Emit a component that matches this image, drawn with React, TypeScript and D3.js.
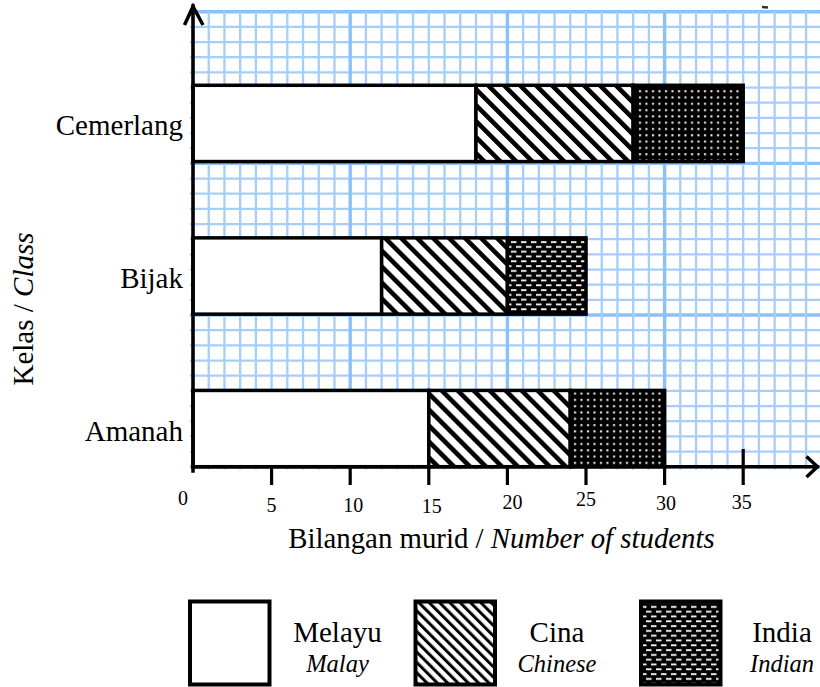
import React from "react";
import * as d3 from "d3";

// ---- data ----
const classes = ["Cemerlang", "Bijak", "Amanah"];
const groups = ["Melayu", "Cina", "India"];
const groupsEn = ["Malay", "Chinese", "Indian"];
const melayu = [18, 12, 15];
const cina = [10, 8, 9];
const india = [7, 5, 6];
const xTicks = [0, 5, 10, 15, 20, 25, 30, 35];

const FONT = "'Liberation Serif', 'Times New Roman', Times, serif";

export default function App() {
  const W = 820;
  const H = 687;
  const x0 = 193;
  const unit = 15.72;
  const x = d3.scaleLinear().domain([0, 35]).range([x0, x0 + 35 * unit]);
  const axisY = 466.7;
  const gridTop = 11.7;
  const rowH = (axisY - gridTop) / 30;
  const y = d3
    .scaleBand<string>()
    .domain(classes)
    .range([9, 543])
    .paddingInner(0.5)
    .paddingOuter(0.5);

  const vLines = d3.range(0, 41).map((k) => ({ x: x(k), major: k % 10 === 0 }));
  const hLines = d3.range(0, 31).map((j) => ({ y: axisY - j * rowH, major: j % 10 === 0 }));

  // hand-placed tick labels in the original (layout nudges)
  const nudge: [number, number][] = [
    [-10, 505], [0, 511.7], [3, 511.7], [3, 513.3], [5, 509.3], [0, 506], [1.5, 510], [-1.5, 509.3],
  ];
  const legendBoxX = (i: number) => 190 + i * 225.5;
  const legendTextX = [337.5, 557, 782];

  const stacks = classes.map((c, i) => {
    const vals = [melayu[i], cina[i], india[i]];
    let acc = 0;
    return vals.map((v, gi) => {
      const s = acc;
      acc += v;
      return { cls: c, group: groups[gi], start: s, end: acc };
    });
  });

  const fillFor = (group: string, cls: string) => {
    if (group === "Melayu") return "#ffffff";
    if (group === "Cina") return "url(#stripes)";
    return cls === "Bijak" ? "url(#dashes)" : "url(#dots)";
  };
  const legendFill = ["#ffffff", "url(#stripesSmall)", "url(#dashes)"];

  return (
    <svg
      width={W}
      height={H}
      viewBox={`0 0 ${W} ${H}`}
      style={{ position: "absolute", left: 0, top: 0, background: "#fff" }}
      fontFamily={FONT}
    >
      <defs>
        <pattern id="stripes" patternUnits="userSpaceOnUse" width={11.3} height={11.3} patternTransform="rotate(-45)">
          <rect width={11.3} height={11.3} fill="#fff" />
          <rect x={0} y={0} width={4.6} height={11.3} fill="#000" />
        </pattern>
        <pattern id="stripesSmall" patternUnits="userSpaceOnUse" width={7.3} height={7.3} patternTransform="rotate(-45)">
          <rect width={7.3} height={7.3} fill="#fff" />
          <rect x={0} y={0} width={3} height={7.3} fill="#000" />
        </pattern>
        <pattern id="dots" patternUnits="userSpaceOnUse" width={6.5} height={6.3}>
          <rect width={6.5} height={6.3} fill="#000" />
          <rect x={2} y={2} width={2} height={2} fill="#fff" />
        </pattern>
        <pattern id="dashes" patternUnits="userSpaceOnUse" width={10} height={9.6}>
          <rect width={10} height={9.6} fill="#000" />
          <rect x={1} y={1.2} width={5.5} height={1.8} fill="#fff" />
          <rect x={6} y={6} width={5.5} height={1.8} fill="#fff" />
          <rect x={-4} y={6} width={5.5} height={1.8} fill="#fff" />
        </pattern>
      </defs>

      {/* graph paper grid */}
      <g>
        {hLines.map((l, i) => (
          <line
            key={"h" + i}
            x1={190}
            x2={W}
            y1={l.y}
            y2={l.y}
            stroke={l.major ? "#8cc0f8" : "#a6cefb"}
            strokeWidth={l.major ? 3.4 : 2.3}
          />
        ))}
        {vLines.map((l, i) => (
          <line
            key={"v" + i}
            x1={l.x}
            x2={l.x}
            y1={gridTop}
            y2={469.5}
            stroke={l.major ? "#8cc0f8" : "#a6cefb"}
            strokeWidth={l.major ? 3.4 : 2.3}
          />
        ))}
      </g>

      {/* stacked bars */}
      <g>
        {stacks.map((segs) =>
          segs.map((s) => (
            <rect
              key={s.cls + s.group}
              x={x(s.start)}
              y={y(s.cls)!}
              width={x(s.end) - x(s.start)}
              height={y.bandwidth()}
              fill={fillFor(s.group, s.cls)}
              stroke="#000"
              strokeWidth={3.5}
            />
          ))
        )}
      </g>

      {/* axes */}
      <g stroke="#000" fill="none" strokeLinecap="square">
        <line x1={x0} x2={x0} y1={6} y2={471} strokeWidth={3.5} />
        <path d={`M${x0 - 8.5},25 L${x0},6.5 L${x0 + 10},25`} strokeWidth={3.5} strokeLinecap="butt" />
        <line x1={x0} x2={817} y1={axisY} y2={axisY} strokeWidth={3.5} />
        <path d={`M806.5,456.5 L817.5,${axisY} L806.5,477`} strokeWidth={3.5} strokeLinecap="butt" />
        {xTicks.filter((t) => t > 0).map((t) => (
          <line
            key={"t" + t}
            x1={x(t)}
            x2={x(t)}
            y1={t === 35 ? 449 : axisY}
            y2={485}
            strokeWidth={3.2}
            strokeLinecap="butt"
          />
        ))}
      </g>
      <line x1={762} x2={768} y1={7} y2={7.5} stroke="#3a3020" strokeWidth={2.5} />

      {/* tick labels */}
      <g fontSize={20} fill="#000" textAnchor="middle">
        {xTicks.map((t, i) => (
          <text key={"l" + t} x={x(t) + nudge[i][0]} y={nudge[i][1]}>
            {t}
          </text>
        ))}
      </g>

      {/* category labels */}
      <g fontSize={29} fill="#000" textAnchor="end">
        {classes.map((c) => (
          <text key={c} x={183} y={y(c)! + y.bandwidth() / 2 + 12}>
            {c}
          </text>
        ))}
      </g>

      {/* axis titles */}
      <text transform="translate(33,309) rotate(-90)" fontSize={29} textAnchor="middle" fill="#000">
        Kelas / <tspan fontStyle="italic">Class</tspan>
      </text>
      <text x={501.5} y={548.3} fontSize={28.8} textAnchor="middle" fill="#000">
        Bilangan murid / <tspan fontStyle="italic">Number of students</tspan>
      </text>

      {/* legend */}
      <g>
        {groups.map((g, i) => {
          const bx = legendBoxX(i);
          return (
            <g key={g}>
              <rect x={bx} y={601.5} width={79.5} height={83} fill={legendFill[i]} stroke="#000" strokeWidth={4} />
              <text x={legendTextX[i]} y={641.7} fontSize={29} textAnchor="middle" fill="#000">
                {g}
              </text>
              <text x={legendTextX[i]} y={671.7} fontSize={24.5} fontStyle="italic" textAnchor="middle" fill="#000">
                {groupsEn[i]}
              </text>
            </g>
          );
        })}
      </g>
    </svg>
  );
}
